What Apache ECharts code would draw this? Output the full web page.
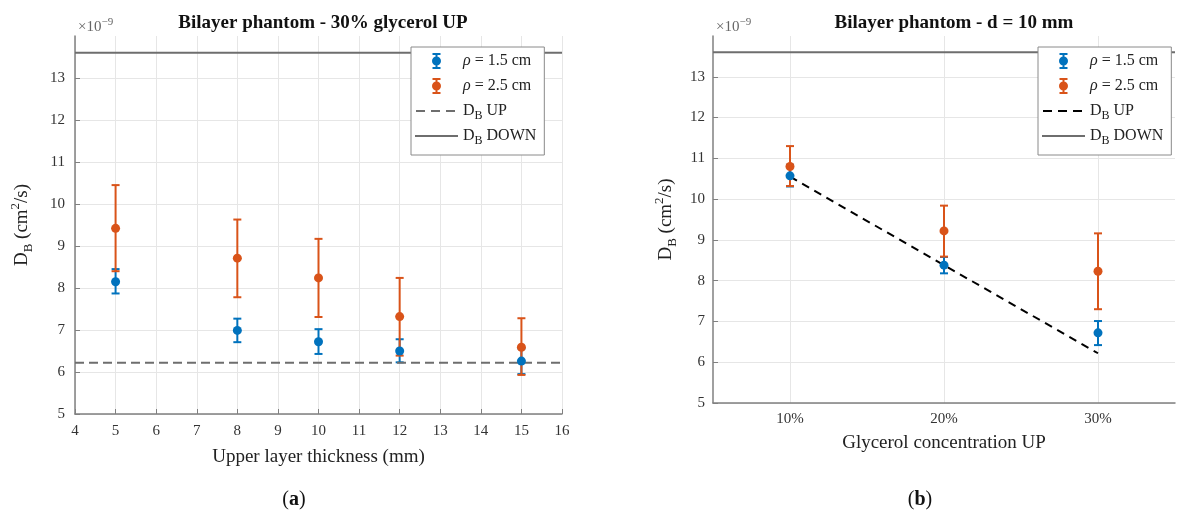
<!DOCTYPE html>
<html>
<head>
<meta charset="utf-8">
<script src="https://cdn.jsdelivr.net/npm/echarts@6/dist/echarts.min.js"></script>
<style>html,body{margin:0;padding:0;background:#fff}#c{width:1178px;height:516px}</style>
</head>
<body>
<div id="c"></div>
<script>
// ---------- data (values in units of 1e-9 cm^2/s) ----------
const thickness = [5, 8, 10, 12, 15];
const a_r15_mean = [8.15, 6.99, 6.72, 6.50, 6.26];
const a_r15_low  = [7.87, 6.71, 6.43, 6.23, 5.95];
const a_r15_high = [8.45, 7.27, 7.02, 6.78, 6.56];
const a_r25_mean = [9.42, 8.71, 8.24, 7.32, 6.59];
const a_r25_low  = [8.40, 7.78, 7.31, 6.39, 5.93];
const a_r25_high = [10.45, 9.63, 9.17, 8.24, 7.28];
const a_xRange = [4, 16];
const a_dbUp = 6.22;
const dbDown = 13.6;

const glycerol = [10, 20, 30];
const b_r15_mean = [10.57, 8.38, 6.72];
const b_r15_low  = [10.31, 8.18, 6.42];
const b_r15_high = [10.84, 8.58, 7.01];
const b_r25_mean = [10.80, 9.22, 8.23];
const b_r25_low  = [10.32, 8.59, 7.30];
const b_r25_high = [11.30, 9.84, 9.16];
const b_dbUp = [10.55, 8.38, 6.22];
const b_xRange = [5, 35];

const yRange = [5, 14];

// ---------- styling ----------
const F = '"Liberation Serif", "DejaVu Serif", serif';
const BLUE = '#0072BD', ORANGE = '#D95319', GRAYLINE = '#6e6e6e';
const AX = '#808080', GRID = '#e6e6e6', TXT = '#333';
const T = 'rgba(0,0,0,0)';

const ebIcon = 'path://M0,0 L0,0 M43,18 L43,18 M20.5,1 h2 v16 h-2 Z M17.5,1 h8 v2 h-8 Z M17.5,15 h8 v2 h-8 Z M17,9 a4.5,4.5 0 1,1 9,0 a4.5,4.5 0 1,1 -9,0 Z';
const dashIcon = 'path://M0,0 L0,0 M43,18 L43,18 M1,8 h9 v2 h-9 Z M16,8 h9 v2 h-9 Z M31,8 h9 v2 h-9 Z';
const solidIcon = 'path://M0,0 L0,0 M43,18 L43,18 M0,8 h43 v2 h-43 Z';

function errRender(color) {
  return function (params, api) {
    const x = api.value(0), lo = api.value(1), hi = api.value(2);
    const p1 = api.coord([x, hi]), p2 = api.coord([x, lo]);
    const st = { stroke: color, lineWidth: 2 };
    return { type: 'group', children: [
      { type: 'line', shape: { x1: p1[0], y1: p1[1], x2: p2[0], y2: p2[1] }, style: st },
      { type: 'line', shape: { x1: p1[0] - 4, y1: p1[1], x2: p1[0] + 4, y2: p1[1] }, style: st },
      { type: 'line', shape: { x1: p2[0] - 4, y1: p2[1], x2: p2[0] + 4, y2: p2[1] }, style: st }
    ]};
  };
}

const yName = '{m|D}{s|B} (cm{p|2}/s)';
const yNameStyle = {
  fontFamily: F, fontSize: 19, color: '#222',
  rich: {
    m: { fontFamily: F, fontSize: 19, lineHeight: 26, color: '#222' },
    s: { fontFamily: F, fontSize: 13, lineHeight: 8, verticalAlign: 'bottom', color: '#222' },
    p: { fontFamily: F, fontSize: 13, lineHeight: 12, verticalAlign: 'top', color: '#222' }
  }
};

function yAxis(grid, gap, margin) {
  const n = yRange[1] - yRange[0] + 1;
  const cols = []; for (let i = 0; i < n; i++) cols.push(i === n - 1 ? T : GRID);
  return {
    gridIndex: grid, type: 'value', min: yRange[0], max: yRange[1], interval: 1,
    axisLine: { show: true, lineStyle: { color: AX, width: 1.5 } },
    axisTick: { show: true, inside: true, length: 5, lineStyle: { color: AX } },
    axisLabel: { showMaxLabel: false, color: TXT, fontFamily: F, fontSize: 15, margin: margin },
    splitLine: { show: true, lineStyle: { color: cols, width: 1 } },
    name: yName, nameLocation: 'middle', nameGap: gap, nameRotate: 90,
    nameTextStyle: yNameStyle
  };
}

const legendLabels = {
  r15a: '{i|ρ} = 1.5 cm', r25a: '{i|ρ} = 2.5 cm', upA: '{m|D}{s|B} UP', downA: '{m|D}{s|B} DOWN',
  r15b: '{i|ρ} = 1.5 cm', r25b: '{i|ρ} = 2.5 cm', upB: '{m|D}{s|B} UP', downB: '{m|D}{s|B} DOWN'
};
function legend(names, left) {
  return {
    orient: 'vertical', left: left, top: 47,
    data: [{ name: names[0], icon: ebIcon }, { name: names[1], icon: ebIcon },
           { name: names[2], icon: dashIcon }, { name: names[3], icon: solidIcon }],
    itemWidth: 43, itemHeight: 18, itemGap: 3,
    padding: [3, 8, 8, 4],
    borderColor: '#8a8a8a', borderWidth: 1, backgroundColor: '#fff',
    formatter: n => legendLabels[n],
    selectedMode: false,
    textStyle: {
      fontFamily: F, fontSize: 16, color: '#222', lineHeight: 22,
      rich: {
        i: { fontFamily: F, fontSize: 16, fontStyle: 'italic', color: '#222' },
        m: { fontFamily: F, fontSize: 16, color: '#222' },
        s: { fontFamily: F, fontSize: 12, lineHeight: 6, verticalAlign: 'bottom', color: '#222' }
      }
    }
  };
}

const bGridCols = [];
for (let v = b_xRange[0]; v <= b_xRange[1]; v += 5) bGridCols.push(glycerol.indexOf(v) >= 0 ? GRID : T);

const option = {
  animation: false,
  backgroundColor: '#fff',
  title: [
    { text: 'Bilayer phantom - 30% glycerol UP', left: 318, top: 9, textAlign: 'center',
      textStyle: { fontFamily: F, fontWeight: 'bold', fontSize: 19, color: '#111' } },
    { text: 'Bilayer phantom - d = 10 mm', left: 949, top: 9, textAlign: 'center',
      textStyle: { fontFamily: F, fontWeight: 'bold', fontSize: 19, color: '#111' } },
    { text: '×10{s|−9}', left: 73, top: 12,
      textStyle: { fontFamily: F, fontSize: 15, fontWeight: 'normal', color: '#666', lineHeight: 20,
        rich: { s: { fontFamily: F, fontSize: 11, lineHeight: 10, verticalAlign: 'top', color: '#666' } } } },
    { text: '×10{s|−9}', left: 711, top: 12,
      textStyle: { fontFamily: F, fontSize: 15, fontWeight: 'normal', color: '#666', lineHeight: 20,
        rich: { s: { fontFamily: F, fontSize: 11, lineHeight: 10, verticalAlign: 'top', color: '#666' } } } },
    { text: '({b|a})', left: 289, top: 485, textAlign: 'center',
      textStyle: { fontFamily: F, fontSize: 20, fontWeight: 'normal', color: '#111',
        rich: { b: { fontFamily: F, fontSize: 20, fontWeight: 'bold', color: '#111' } } } },
    { text: '({b|b})', left: 915, top: 485, textAlign: 'center',
      textStyle: { fontFamily: F, fontSize: 20, fontWeight: 'normal', color: '#111',
        rich: { b: { fontFamily: F, fontSize: 20, fontWeight: 'bold', color: '#111' } } } }
  ],
  legend: [legend(['r15a', 'r25a', 'upA', 'downA'], 411), legend(['r15b', 'r25b', 'upB', 'downB'], 1038)],
  grid: [
    { left: 75, top: 36, width: 487, height: 378 },
    { left: 713, top: 36, width: 470, height: 367 }
  ],
  xAxis: [
    { gridIndex: 0, type: 'value', min: a_xRange[0], max: a_xRange[1], interval: 1,
      axisLine: { show: true, onZero: false, lineStyle: { color: AX, width: 1.5 } },
      axisTick: { show: true, inside: true, length: 5, lineStyle: { color: AX } },
      axisLabel: { color: TXT, fontFamily: F, fontSize: 15, margin: 10 },
      splitLine: { show: true, lineStyle: { color: GRID, width: 1 } },
      name: 'Upper layer thickness (mm)', nameLocation: 'middle', nameGap: 34,
      nameTextStyle: { fontFamily: F, fontSize: 19, color: '#222' } },
    { gridIndex: 1, type: 'value', min: b_xRange[0], max: b_xRange[1], interval: 5,
      axisLine: { show: true, onZero: false, lineStyle: { color: AX, width: 1.5 } },
      axisTick: { show: false },
      axisLabel: { color: TXT, fontFamily: F, fontSize: 15, margin: 9,
        formatter: v => glycerol.indexOf(v) >= 0 ? v + '%' : '' },
      splitLine: { show: true, lineStyle: { color: bGridCols, width: 1 } },
      name: 'Glycerol concentration UP', nameLocation: 'middle', nameGap: 31,
      nameTextStyle: { fontFamily: F, fontSize: 19, color: '#222' } }
  ],
  yAxis: [yAxis(0, 40, 10), yAxis(1, 34, 8)],
  series: [
    // ---- chart (a) ----
    { name: 'ea15', type: 'custom', xAxisIndex: 0, yAxisIndex: 0, renderItem: errRender(BLUE),
      encode: { x: 0, y: [1, 2] }, data: thickness.map((x, i) => [x, a_r15_low[i], a_r15_high[i]]), z: 3 },
    { name: 'r15a', type: 'scatter', xAxisIndex: 0, yAxisIndex: 0, symbol: 'circle', symbolSize: 9,
      itemStyle: { color: BLUE, opacity: 1 }, data: thickness.map((x, i) => [x, a_r15_mean[i]]), z: 3 },
    { name: 'ea25', type: 'custom', xAxisIndex: 0, yAxisIndex: 0, renderItem: errRender(ORANGE),
      encode: { x: 0, y: [1, 2] }, data: thickness.map((x, i) => [x, a_r25_low[i], a_r25_high[i]]), z: 3 },
    { name: 'r25a', type: 'scatter', xAxisIndex: 0, yAxisIndex: 0, symbol: 'circle', symbolSize: 9,
      itemStyle: { color: ORANGE, opacity: 1 }, data: thickness.map((x, i) => [x, a_r25_mean[i]]), z: 3 },
    { name: 'upA', type: 'line', xAxisIndex: 0, yAxisIndex: 0, symbol: 'none', z: 3,
      lineStyle: { color: GRAYLINE, width: 2, type: [9, 5] }, itemStyle: { color: GRAYLINE },
      data: a_xRange.map(x => [x, a_dbUp]) },
    { name: 'downA', type: 'line', xAxisIndex: 0, yAxisIndex: 0, symbol: 'none', z: 3,
      lineStyle: { color: GRAYLINE, width: 2 }, itemStyle: { color: GRAYLINE },
      data: a_xRange.map(x => [x, dbDown]) },
    // ---- chart (b) ----
    { name: 'eb15', type: 'custom', xAxisIndex: 1, yAxisIndex: 1, renderItem: errRender(BLUE),
      encode: { x: 0, y: [1, 2] }, data: glycerol.map((x, i) => [x, b_r15_low[i], b_r15_high[i]]), z: 3 },
    { name: 'r15b', type: 'scatter', xAxisIndex: 1, yAxisIndex: 1, symbol: 'circle', symbolSize: 9,
      itemStyle: { color: BLUE, opacity: 1 }, data: glycerol.map((x, i) => [x, b_r15_mean[i]]), z: 3 },
    { name: 'eb25', type: 'custom', xAxisIndex: 1, yAxisIndex: 1, renderItem: errRender(ORANGE),
      encode: { x: 0, y: [1, 2] }, data: glycerol.map((x, i) => [x, b_r25_low[i], b_r25_high[i]]), z: 3 },
    { name: 'r25b', type: 'scatter', xAxisIndex: 1, yAxisIndex: 1, symbol: 'circle', symbolSize: 9,
      itemStyle: { color: ORANGE, opacity: 1 }, data: glycerol.map((x, i) => [x, b_r25_mean[i]]), z: 3 },
    { name: 'upB', type: 'line', xAxisIndex: 1, yAxisIndex: 1, symbol: 'none', z: 3,
      lineStyle: { color: '#000', width: 2, type: [8, 6] }, itemStyle: { color: '#000' },
      data: glycerol.map((x, i) => [x, b_dbUp[i]]) },
    { name: 'downB', type: 'line', xAxisIndex: 1, yAxisIndex: 1, symbol: 'none', z: 3,
      lineStyle: { color: GRAYLINE, width: 2 }, itemStyle: { color: GRAYLINE },
      data: b_xRange.map(x => [x, dbDown]) }
  ]
};

const chart = echarts.init(document.getElementById('c'), null, { renderer: 'canvas' });
chart.setOption(option);
</script>
</body>
</html>
